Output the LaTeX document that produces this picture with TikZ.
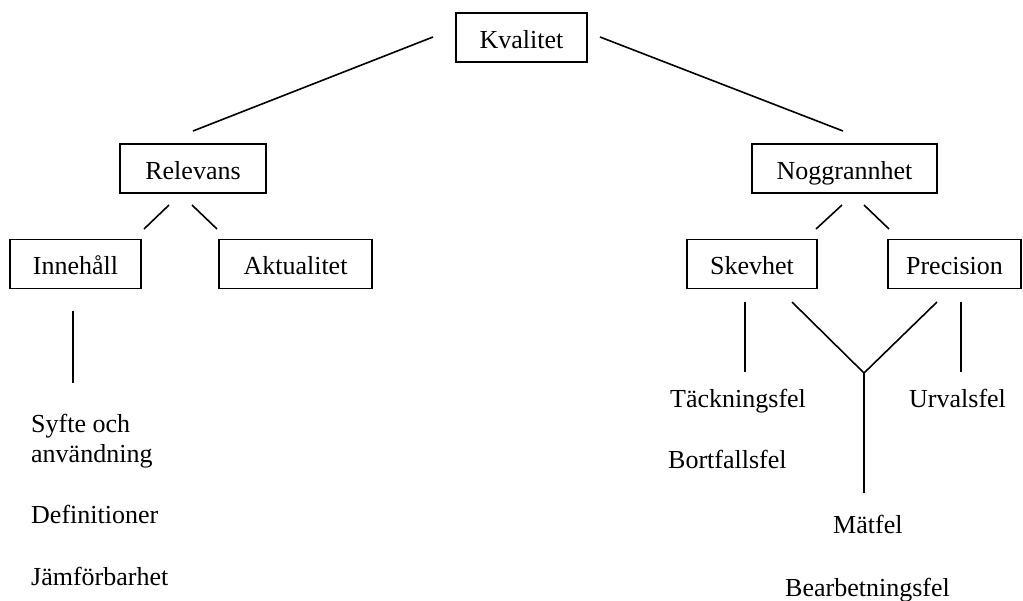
\documentclass[tikz,border=0pt]{standalone}
\usepackage{fontspec}
\setmainfont{Liberation Serif}
\begin{document}
\begin{tikzpicture}[x=1pt,y=-1pt,
  every node/.style={font=\fontsize{26}{31}\selectfont, inner sep=0pt},
  box/.style={draw, line width=1.6pt, minimum height=49pt, text height=21pt, text depth=0pt},
  lbl/.style={anchor=base west, align=left},
  conn/.style={line width=1.6pt}]
\useasboundingbox (0,0) rectangle (1023,600);

% boxes
\node[box, minimum width=131pt] (kval) at (521.5,37.5) {Kvalitet};
\node[box, minimum width=146pt] (rel)  at (193,168.5) {Relevans};
\node[box, minimum width=185pt] (nogg) at (844.5,168.5) {Noggrannhet};
\node[box, minimum width=131pt] (inne) at (75.5,264) {Innehåll};
\node[box, minimum width=153pt] (aktu) at (295.5,264) {Aktualitet};
\node[box, minimum width=130pt] (skev) at (752,264) {Skevhet};
\node[box, minimum width=133pt] (prec) at (954.5,264) {Precision};

% plain labels (multi-line label is anchored on its last line)
\node[lbl] (syfte) at (31,462) {Syfte och\\[-1pt]användning};
\node[lbl] (defi)  at (31,523) {Definitioner};
\node[lbl] (jamf)  at (31,585) {Jämförbarhet};
\node[lbl] (tack)  at (670,407) {Täckningsfel};
\node[lbl] (bort)  at (668,468) {Bortfallsfel};
\node[lbl] (urval) at (909,407) {Urvalsfel};
\node[lbl] (matf)  at (833,533) {Mätfel};
\node[lbl] (bearb) at (785,596) {Bearbetningsfel};

% connector end points
\coordinate (k1) at (433,37);  \coordinate (k2) at (193,131);
\coordinate (k3) at (600,37);  \coordinate (k4) at (843,131);
\coordinate (r1) at (169,205); \coordinate (r2) at (144,229);
\coordinate (r3) at (192,205); \coordinate (r4) at (217,229);
\coordinate (n1) at (842,205); \coordinate (n2) at (816,229);
\coordinate (n3) at (864,205); \coordinate (n4) at (889,229);
\coordinate (i1) at (73,311);  \coordinate (i2) at (73,383);
\coordinate (s1) at (745,302); \coordinate (s2) at (745,372);
\coordinate (p1) at (961,302); \coordinate (p2) at (961,372);
\coordinate (v1) at (792,302); \coordinate (v2) at (937,302);
\coordinate (vj) at (864,373); \coordinate (v3) at (864,493);

% connectors
\draw[conn] (k1) -- (k2);
\draw[conn] (k3) -- (k4);
\draw[conn] (r1) -- (r2);
\draw[conn] (r3) -- (r4);
\draw[conn] (n1) -- (n2);
\draw[conn] (n3) -- (n4);
\draw[conn] (i1) -- (i2);
\draw[conn] (s1) -- (s2);
\draw[conn] (p1) -- (p2);
\draw[conn] (v1) -- (vj) -- (v2);
\draw[conn] (vj) -- (v3);
\end{tikzpicture}
\end{document}
